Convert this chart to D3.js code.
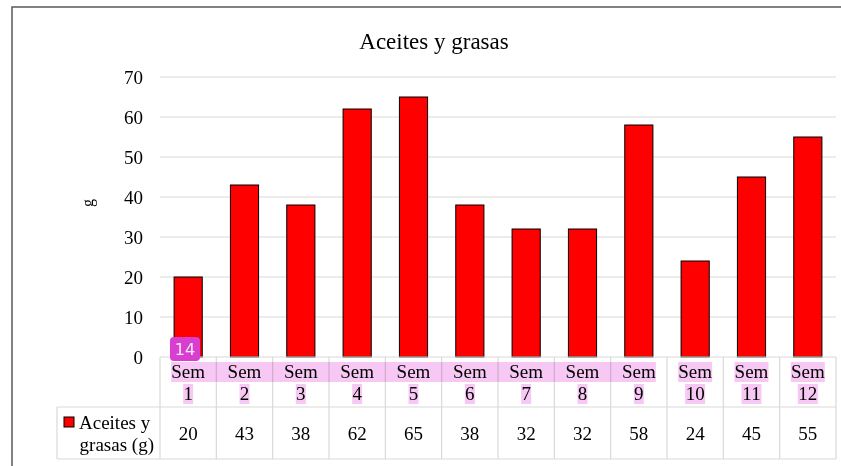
<!DOCTYPE html>
<html>
<head>
<meta charset="utf-8">
<script src="https://cdn.jsdelivr.net/npm/d3@7"></script>
<style>
  body { margin: 0; background: #fff; overflow: hidden; }
  text { font-family: "Liberation Serif", "DejaVu Serif", serif; }
</style>
</head>
<body>
<div id="chart"></div>
<script>
const semanas = ["Sem 1", "Sem 2", "Sem 3", "Sem 4", "Sem 5", "Sem 6",
                 "Sem 7", "Sem 8", "Sem 9", "Sem 10", "Sem 11", "Sem 12"];
const valores = [20, 43, 38, 62, 65, 38, 32, 32, 58, 24, 45, 55];
const yTicks = [0, 10, 20, 30, 40, 50, 60, 70];
const serieNombre = ["Aceites y", "grasas (g)"];
const titulo = "Aceites y grasas";
const ejeY = "g";

const width = 841, height = 466;
const plot = {left: 160, right: 836, top: 77, bottom: 357};
const fs = "19px";

const svg = d3.select("#chart")
  .append("svg")
    .attr("width", width)
    .attr("height", height)
    .style("display", "block");

// chart frame
svg.append("path")
  .attr("d", `M12,${height}V7H${width}`)
  .attr("fill", "none")
  .attr("stroke", "#5a5a5a")
  .attr("stroke-width", 1.5);

const x = d3.scaleBand()
  .domain(semanas)
  .range([plot.left, plot.right])
  .paddingInner(0.5)
  .paddingOuter(0.25);

const step = x.step();

const y = d3.scaleLinear()
  .domain([0, 70])
  .range([plot.bottom, plot.top]);

// gridlines
svg.append("g")
  .selectAll("line")
  .data(yTicks.filter(d => d > 0))
  .join("line")
    .attr("x1", plot.left)
    .attr("x2", plot.right)
    .attr("y1", d => y(d))
    .attr("y2", d => y(d))
    .attr("stroke", "#d9d9d9")
    .attr("stroke-width", 1.2);

// y axis labels
const yAxis = svg.append("g")
  .attr("transform", `translate(${plot.left},0)`)
  .call(d3.axisLeft(y).tickValues(yTicks).tickSize(0).tickPadding(17));
yAxis.select(".domain").remove();
yAxis.selectAll("text")
  .style("font-family", "Liberation Serif, serif")
  .style("font-size", fs)
  .style("fill", "#000");

// y axis title
svg.append("text")
  .attr("transform", "translate(93,203) rotate(-90)")
  .attr("text-anchor", "middle")
  .style("font-size", "16px")
  .text(ejeY);

// title
svg.append("text")
  .attr("x", 434)
  .attr("y", 49)
  .attr("text-anchor", "middle")
  .style("font-size", "23px")
  .text(titulo);

// bars
svg.append("g")
  .selectAll("rect")
  .data(valores)
  .join("rect")
    .attr("x", (d, i) => x(semanas[i]))
    .attr("y", d => y(d))
    .attr("width", x.bandwidth())
    .attr("height", d => y(0) - y(d))
    .attr("fill", "#ff0000")
    .attr("stroke", "#000")
    .attr("stroke-width", 1);

// data table
const rowTop = plot.bottom, rowMid = 407, rowBot = 459, legLeft = 57;
const table = svg.append("g")
  .attr("stroke", "#d9d9d9")
  .attr("stroke-width", 1.2);

table.append("line").attr("x1", plot.left).attr("x2", plot.right).attr("y1", rowTop).attr("y2", rowTop);
table.append("line").attr("x1", legLeft).attr("x2", plot.right).attr("y1", rowMid).attr("y2", rowMid);
table.append("line").attr("x1", legLeft).attr("x2", plot.right).attr("y1", rowBot).attr("y2", rowBot);
table.append("line").attr("x1", legLeft).attr("x2", legLeft).attr("y1", rowMid).attr("y2", rowBot);
table.selectAll(".col")
  .data(d3.range(semanas.length + 1))
  .join("line")
    .attr("x1", i => plot.left + i * step)
    .attr("x2", i => plot.left + i * step)
    .attr("y1", rowTop)
    .attr("y2", rowBot);

const cx = d => x(d) + x.bandwidth() / 2;

// category labels (two lines)
const cats = svg.append("g")
  .selectAll("g")
  .data(semanas)
  .join("g")
    .attr("transform", d => `translate(${cx(d)},0)`);

cats.append("text")
  .attr("y", 378)
  .attr("text-anchor", "middle")
  .style("font-size", fs)
  .text(d => d.split(" ")[0]);

cats.append("text")
  .attr("y", 400)
  .attr("text-anchor", "middle")
  .style("font-size", fs)
  .text(d => d.split(" ")[1]);

// values row
svg.append("g")
  .selectAll("text")
  .data(valores)
  .join("text")
    .attr("x", (d, i) => cx(semanas[i]))
    .attr("y", 440)
    .attr("text-anchor", "middle")
    .style("font-size", fs)
    .text(d => d);

// legend key in table
svg.append("rect")
  .attr("x", 64)
  .attr("y", 417)
  .attr("width", 10)
  .attr("height", 10)
  .attr("fill", "#ff0000")
  .attr("stroke", "#000")
  .attr("stroke-width", 1);

svg.append("text")
  .attr("x", 79)
  .attr("y", 429)
  .style("font-size", fs)
  .text(serieNombre[0]);

svg.append("text")
  .attr("x", 154)
  .attr("y", 451)
  .attr("text-anchor", "end")
  .style("font-size", fs)
  .text(serieNombre[1]);

// selection highlight over category labels
const hl = svg.append("g")
  .style("mix-blend-mode", "multiply")
  .attr("fill", "#f7c8f3");

const first = semanas.slice(0, 9);
hl.append("rect")
  .attr("x", cx(first[0]) - 17)
  .attr("y", 362)
  .attr("width", cx(first[first.length - 1]) + 17 - (cx(first[0]) - 17))
  .attr("height", 20);

hl.selectAll(".w1")
  .data(semanas.slice(9))
  .join("rect")
    .attr("x", d => cx(d) - 17)
    .attr("y", 362)
    .attr("width", 34)
    .attr("height", 20);

hl.selectAll(".w2")
  .data(semanas)
  .join("rect")
    .attr("x", d => cx(d) - (d.split(" ")[1].length > 1 ? 10 : 5))
    .attr("y", 384)
    .attr("width", d => d.split(" ")[1].length > 1 ? 20 : 10)
    .attr("height", 20);

// page number badge
const badge = svg.append("g").attr("transform", "translate(170,337)");
badge.append("rect")
  .attr("width", 30)
  .attr("height", 24)
  .attr("rx", 4)
  .attr("fill", "#d83fd0");
badge.append("text")
  .attr("x", 15)
  .attr("y", 18)
  .attr("text-anchor", "middle")
  .style("font-family", "DejaVu Sans, sans-serif")
  .style("font-size", "16px")
  .style("fill", "#fde8fb")
  .text("14");
</script>
</body>
</html>
